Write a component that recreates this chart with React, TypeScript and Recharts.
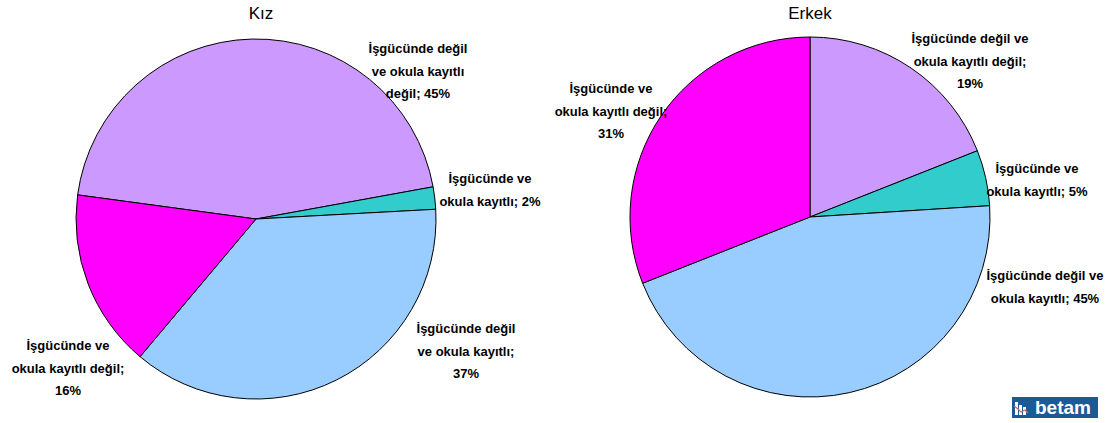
import { PieChart, Pie, Cell } from "recharts";

const categories = [
  "İşgücünde değil ve okula kayıtlı değil",
  "İşgücünde ve okula kayıtlı",
  "İşgücünde değil ve okula kayıtlı",
  "İşgücünde ve okula kayıtlı değil",
];
const kizValues = [45, 2, 37, 16];
const erkekValues = [19, 5, 45, 31];

// label wording as it is broken in the source, {v} = the slice value
const kizLabelLines = [
  ["İşgücünde değil", "ve okula kayıtlı", "değil; {v}%"],
  ["İşgücünde ve", "okula kayıtlı; {v}%"],
  ["İşgücünde değil", "ve okula kayıtlı;", "{v}%"],
  ["İşgücünde ve", "okula kayıtlı değil;", "{v}%"],
];
const erkekLabelLines = [
  ["İşgücünde değil ve", "okula kayıtlı değil;", "{v}%"],
  ["İşgücünde ve", "okula kayıtlı; {v}%"],
  ["İşgücünde değil ve", "okula kayıtlı; {v}%"],
  ["İşgücünde ve", "okula kayıtlı değil;", "{v}%"],
];

const COLORS = ["#CC99FF", "#33CCCC", "#99CCFF", "#FF00FF"];

// label offsets from pie centre (x = text centre, y = first line)
const kizLabelPos = [[162, -171], [234, -41], [210, 109], [-188, 126]];
const erkekLabelPos = [[160, -179], [227, -49], [235, 58], [-199, -129]];

const kizData = categories.map((name, i) => ({ name, value: kizValues[i] }));
const erkekData = categories.map((name, i) => ({ name, value: erkekValues[i] }));

const FONT = "'Liberation Sans', Arial, sans-serif";

function makeLabel(lines: string[][], pos: number[][]) {
  return (props: any) => {
    const { cx, cy, index, value } = props;
    const [dx, dy] = pos[index];
    return (
      <text
        key={`lbl-${index}`}
        x={cx + dx}
        y={cy + dy}
        textAnchor="middle"
        dominantBaseline="central"
        fontFamily={FONT}
        fontSize={13}
        fontWeight="bold"
        fill="#000"
      >
        {lines[index].map((l, j) => (
          <tspan key={j} x={cx + dx} dy={j === 0 ? 0 : 22.5}>
            {l.replace("{v}", String(value))}
          </tspan>
        ))}
      </text>
    );
  };
}

export default function App() {
  return (
    <div style={{ position: "absolute", left: 0, top: 0, width: 1112, height: 423, background: "#fff" }}>
      <div style={{ position: "absolute", left: 211, top: 4, width: 100, textAlign: "center", fontFamily: FONT, fontSize: 17 }}>
        Kız
      </div>
      <div style={{ position: "absolute", left: 760, top: 4, width: 100, textAlign: "center", fontFamily: FONT, fontSize: 17 }}>
        Erkek
      </div>
      <PieChart
        width={1112}
        height={423}
        margin={{ top: 0, right: 0, bottom: 0, left: 0 }}
        style={{ position: "absolute", left: 0, top: 0 }}
      >
        <Pie
          data={kizData}
          dataKey="value"
          nameKey="name"
          cx={256}
          cy={219}
          outerRadius={180}
          startAngle={172.3}
          endAngle={-187.7}
          stroke="#000"
          strokeWidth={1}
          label={makeLabel(kizLabelLines, kizLabelPos)}
          labelLine={false}
          isAnimationActive={false}
        >
          {kizData.map((d, i) => (
            <Cell key={d.name} fill={COLORS[i]} />
          ))}
        </Pie>
        <Pie
          data={erkekData}
          dataKey="value"
          nameKey="name"
          cx={810}
          cy={217}
          outerRadius={180}
          startAngle={90}
          endAngle={-270}
          stroke="#000"
          strokeWidth={1}
          label={makeLabel(erkekLabelLines, erkekLabelPos)}
          labelLine={false}
          isAnimationActive={false}
        >
          {erkekData.map((d, i) => (
            <Cell key={d.name} fill={COLORS[i]} />
          ))}
        </Pie>
      </PieChart>
      <svg width={86} height={21} style={{ position: "absolute", left: 1012, top: 397 }}>
        <rect x={0} y={0} width={86} height={21} fill="#1C5A96" />
        <rect x={3} y={5} width={3} height={13} fill="#fff" />
        <rect x={7} y={8} width={3} height={10} fill="#fff" />
        <rect x={11} y={10} width={3} height={8} fill="#fff" />
        <polyline points="2,9 6,12 9,15 13,13 16,16" fill="none" stroke="#E0605A" strokeWidth={1.2} />
        <text x={51} y={16.5} textAnchor="middle" fontFamily={FONT} fontSize={19} fontWeight="bold" fill="#fff">
          betam
        </text>
      </svg>
    </div>
  );
}
